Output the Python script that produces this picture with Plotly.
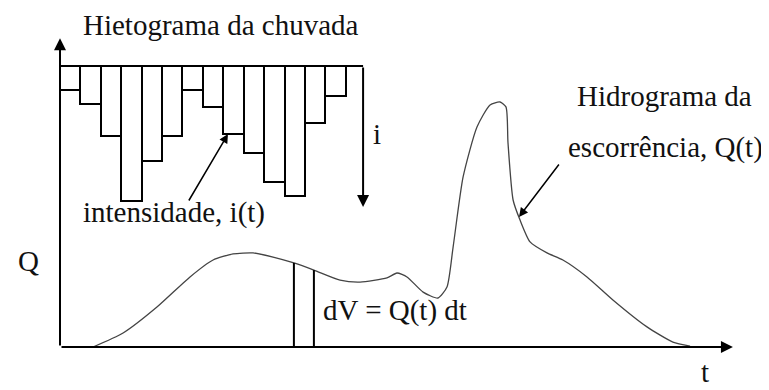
import plotly.graph_objects as go

# ---------------- data ----------------
# Hyetograph: rainfall intensity per time step (arbitrary units)
step_index = list(range(1, 15))
intensity = [4.8, 7.6, 14.0, 27.0, 19.0, 14.0, 4.8, 8.2, 13.6, 17.4, 23.2, 26.0, 11.4, 6.0]

# Runoff hydrograph Q(t)
hydro_t = [1.62, 3.09, 4.75, 6.37, 7.50, 8.48, 9.46, 10.44, 11.46, 12.44, 13.72, 14.70,
           16.02, 16.51, 17.00, 17.79, 18.52, 18.96, 19.26, 19.75, 20.43, 21.07, 21.56,
           21.85, 21.95, 22.20, 22.54, 23.03, 23.86, 24.64, 25.82, 27.09, 28.76, 30.03, 30.87]
hydro_q = [0.0, 0.57, 1.63, 2.86, 3.55, 3.80, 3.84, 3.67, 3.43, 3.14, 2.73, 2.65,
           2.82, 3.02, 2.86, 2.24, 2.00, 2.45, 4.08, 6.94, 8.98, 9.88, 10.0,
           9.80, 8.33, 6.00, 5.18, 4.29, 3.84, 3.55, 2.86, 1.92, 0.82, 0.20, 0.04]

# Elementary volume strip dV = Q(t) dt
dv_t = [11.46, 12.44]
dv_q = [3.43, 3.14]

# Axis extents
t_axis_end = 32.97
q_axis_end = 12.6
i_axis_t = 14.85
i_axis_end = 28.2

# Annotation arrow ends (data units)
int_arrow_tail = (6.27, 27.2)
int_arrow_tip = (8.23, 13.6)
hyd_arrow_tail = (24.5, 7.51)
hyd_arrow_tip = (22.49, 5.31)

# ---------------- figure ----------------
OFF = 8                     # page body margin of the browser
W, H = 769 - OFF, 390 - OFF
FONT = "Liberation Serif, Times New Roman, serif"
TXT = "#111111"
TPX, QPX, IPX = 20.41, 24.5, 5.0          # pixels per unit
X0, Y0, I0 = 60 - OFF, 347 - OFF, 66 - OFF  # origins in figure pixels

def px(x, y):
    return (x - OFF) / W, 1 - (y - OFF) / H

fig = go.Figure()

# hyetograph bars (reversed secondary axis)
fig.add_trace(go.Bar(
    x=[s - 0.5 for s in step_index], y=intensity, base=0, width=1.0,
    marker=dict(color="white", line=dict(color="black", width=2)),
    yaxis="y2", showlegend=False, hoverinfo="skip"))

# hyetograph top line
fig.add_trace(go.Scatter(x=[0, i_axis_t], y=[0, 0], yaxis="y2", mode="lines",
                         line=dict(color="black", width=2), showlegend=False, hoverinfo="skip"))

# hydrograph
fig.add_trace(go.Scatter(x=hydro_t, y=hydro_q, mode="lines",
                         line=dict(color="#444444", width=1.3, shape="spline", smoothing=0.6),
                         showlegend=False, hoverinfo="skip"))

# dV strip
for tt, qq in zip(dv_t, dv_q):
    fig.add_trace(go.Scatter(x=[tt, tt], y=[0, qq], mode="lines",
                             line=dict(color="black", width=2), showlegend=False, hoverinfo="skip"))

annotations = []
def arrow(x, y, ax, ay, yref="y", width=2):
    annotations.append(dict(x=x, y=y, ax=ax, ay=ay, xref="x", yref=yref, axref="x", ayref=yref,
                            text="", showarrow=True, arrowhead=2, arrowsize=1.2,
                            arrowwidth=width, arrowcolor="black", standoff=0, startstandoff=0))

# axes as arrows
arrow(t_axis_end, 0, 0, 0)
arrow(0, q_axis_end, 0, 0)
arrow(i_axis_t, i_axis_end, i_axis_t, 0, yref="y2")
arrow(int_arrow_tip[0], int_arrow_tip[1], int_arrow_tail[0], int_arrow_tail[1], yref="y2", width=1.5)
arrow(hyd_arrow_tip[0], hyd_arrow_tip[1], hyd_arrow_tail[0], hyd_arrow_tail[1], width=1.5)

def label(text, x, y, xanchor="left"):
    px_, py_ = px(x, y)
    annotations.append(dict(x=px_, y=py_, xref="paper", yref="paper", text=text,
                            showarrow=False, xanchor=xanchor, yanchor="middle", borderpad=0,
                            font=dict(family=FONT, size=29, color=TXT)))

label("Hietograma da chuvada", 82, 25)
label("i", 377, 134, "center")
label("intensidade, i(t)", 174, 212, "center")
label("Q", 28, 261, "center")
label("dV = Q(t) dt", 322, 310)
label("Hidrograma da", 576, 96)
label("escorrência, Q(t)", 567, 147)
label("t", 705, 372, "center")

fig.update_layout(
    width=W, height=H, margin=dict(l=0, r=0, t=0, b=0, pad=0, autoexpand=False),
    paper_bgcolor="white", plot_bgcolor="white",
    xaxis=dict(range=[-X0 / TPX, (W - X0) / TPX], visible=False, fixedrange=True),
    yaxis=dict(range=[-(H - Y0) / QPX, Y0 / QPX], visible=False, fixedrange=True),
    yaxis2=dict(range=[(H - I0) / IPX, -I0 / IPX], overlaying="y", visible=False, fixedrange=True),
    annotations=annotations, bargap=0,
)

fig.write_html("out.html")
